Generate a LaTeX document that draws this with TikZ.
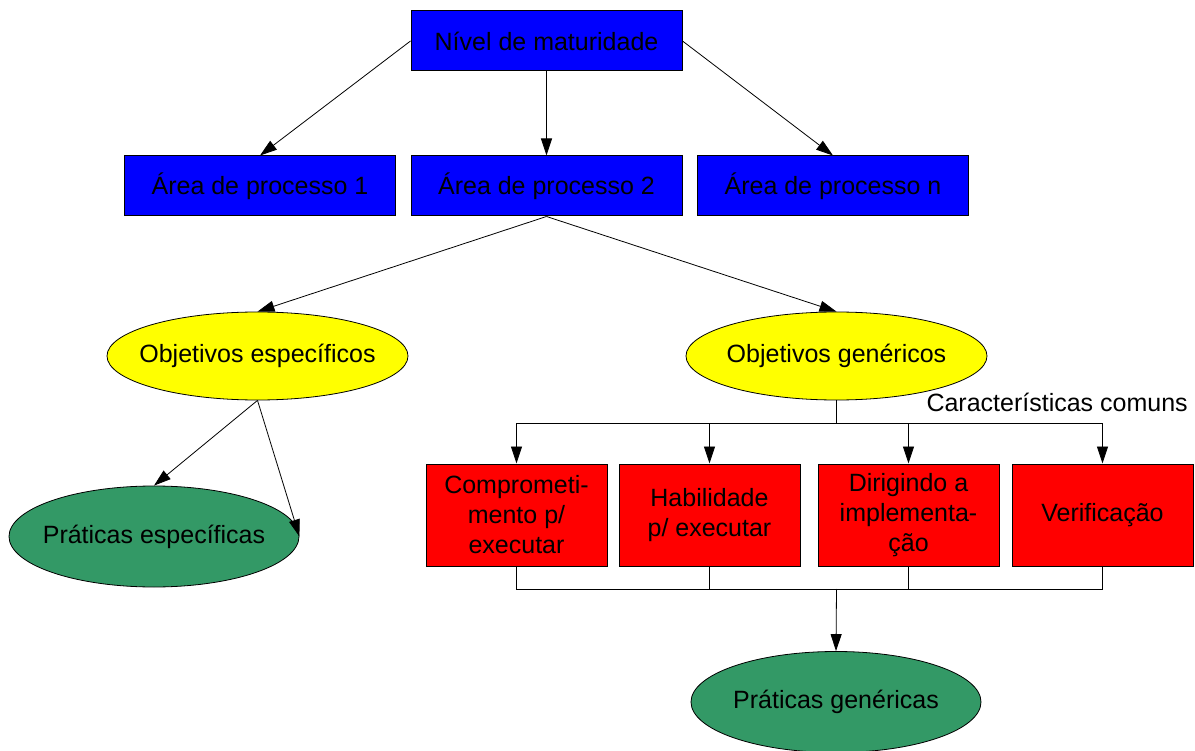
\documentclass[tikz,border=0pt]{standalone}
\usepackage{fontspec}
\setmainfont{Liberation Sans}
\usetikzlibrary{shapes.geometric,arrows.meta}
\definecolor{myblue}{HTML}{0000FF}
\definecolor{myyellow}{HTML}{FFFF00}
\definecolor{myred}{HTML}{FF0000}
\definecolor{mygreen}{HTML}{339966}
\begin{document}
\begin{tikzpicture}[x=1pt,y=-1pt,
  txt/.style={font=\fontsize{25}{30}\selectfont, text=black},
  bluebox/.style={txt, draw=black, line width=1pt, fill=myblue, rectangle, minimum width=271pt, minimum height=60pt, inner sep=0pt},
  redbox/.style={txt, draw=black, line width=1pt, fill=myred, rectangle, minimum width=181pt, minimum height=102pt, inner sep=0pt, align=center},
  yell/.style={draw=black, line width=0.8pt, fill=myyellow, ellipse, minimum width=301pt, minimum height=88pt, inner sep=0pt},
  grn/.style={draw=black, line width=0.8pt, fill=mygreen, ellipse, minimum width=290pt, minimum height=101pt, inner sep=0pt},
  arr/.style={draw=black, line width=0.8pt, -{Triangle[length=17pt,width=11pt]}},
  ln/.style={draw=black, line width=0.8pt}]
\useasboundingbox (0,0) rectangle (1195,751);
\node[bluebox] (nm) at (546.5,41) {Nível de maturidade};
\node[bluebox] (a1) at (260,186) {Área de processo 1};
\node[bluebox] (a2) at (546.5,186) {Área de processo 2};
\node[bluebox] (an) at (833,186) {Área de processo n};
\node[yell, label={[txt]center:Objetivos específicos}] (oe) at (257.5,356) {};
\node[yell, label={[txt]center:Objetivos genéricos}] (og) at (836.5,356) {};
\node[grn, label={[txt]center:Práticas específicas}] (pe) at (154,536.5) {};
\node[redbox] (b1) at (516.5,515) {Comprometi-\\mento p/\\executar};
\node[redbox] (b2) at (709.5,515) {Habilidade\\p/ executar};
\node[redbox] (b3) at (908.5,515) {Dirigindo a\\implementa-\\ção};
\node[redbox] (b4) at (1102.5,515) {Verificação};
\node[grn, label={[txt]center:Práticas genéricas}] (pg) at (836,702) {};
\node[txt, anchor=west] (cc) at (923,402) {Características comuns};
\coordinate (bus1) at (836.5,423);
\coordinate (bus2) at (836.5,589);
\draw[arr] (nm.west) -- (a1.north);
\draw[arr] (nm.south) -- (a2.north);
\draw[arr] (nm.east) -- (an.north);
\draw[arr] (a2.south) -- (oe.north);
\draw[arr] (a2.south) -- (og.north);
\draw[arr] (oe.south) -- (pe.north);
\draw[arr] (oe.south) -- (pe.east);
\draw[ln] (og.south) -- (bus1);
\draw[arr] (bus1) -| (b1.north);
\draw[arr] (bus1) -| (b2.north);
\draw[arr] (bus1) -| (b3.north);
\draw[arr] (bus1) -| (b4.north);
\draw[ln] (b1.south) |- (bus2);
\draw[ln] (b2.south) |- (bus2);
\draw[ln] (b3.south) |- (bus2);
\draw[ln] (b4.south) |- (bus2);
\draw[arr] (bus2) -- (pg.north);
\end{tikzpicture}
\end{document}
